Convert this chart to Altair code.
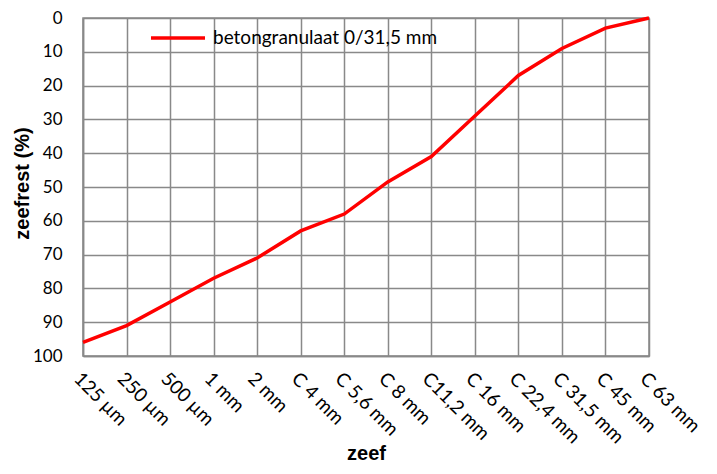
import altair as alt
import pandas as pd

categories = ["125 µm", "250 µm", "500 µm", "1 mm", "2 mm", "C 4 mm", "C 5,6 mm",
              "C 8 mm", "C11,2 mm", "C 16 mm", "C 22,4 mm", "C 31,5 mm", "C 45 mm", "C 63 mm"]
zeefrest = [96, 91, 84, 77, 71, 63, 58, 48.5, 41, 29, 17, 9, 3, 0]
series_name = "betongranulaat 0/31,5 mm"

df = pd.DataFrame({"zeef": categories, "zeefrest": zeefrest, "serie": [series_name] * len(categories)})

grid_color = "#898989"

chart = alt.Chart(df).mark_line(strokeWidth=3.5).encode(
    x=alt.X("zeef:N", sort=categories, title="zeef",
            scale=alt.Scale(type="point", padding=0),
            axis=alt.Axis(labelAngle=45, labelAlign="left", labelBaseline="top",
                          labelFont="Lato", labelFontSize=19, labelColor="black",
                          labelPadding=13, ticks=False, grid=True, gridColor=grid_color,
                          gridWidth=1.5, domainColor=grid_color, domainWidth=1.5,
                          titleFont="Liberation Sans", titleFontSize=20, titleFontWeight="bold",
                          titleColor="black", titleY=103, titleBaseline="alphabetic")),
    y=alt.Y("zeefrest:Q", title="zeefrest (%)",
            scale=alt.Scale(domain=[0, 100], reverse=True, nice=False),
            axis=alt.Axis(values=list(range(0, 101, 10)), labelFont="Lato",
                          labelFontSize=17, labelColor="black", labelPadding=21,
                          ticks=False, grid=True, gridColor=grid_color, gridWidth=1.5,
                          domainColor=grid_color, domainWidth=1.5,
                          titleFont="Liberation Sans", titleFontSize=20, titleFontWeight="bold",
                          titleColor="black", titleX=-61, titleY=165, titleBaseline="middle")),
    color=alt.Color("serie:N", scale=alt.Scale(range=["#ff0000"]),
                    legend=alt.Legend(title=None, orient="none", legendX=66, legendY=-9,
                                      symbolType="stroke", symbolSize=2916, symbolStrokeWidth=3.5,
                                      labelFont="Lato", labelFontSize=19, labelColor="black",
                                      labelOffset=6, padding=0, labelLimit=400)),
).properties(
    width=566, height=338,
    autosize=alt.AutoSizeParams(type="none"),
    padding={"left": 75, "top": 10, "right": 60, "bottom": 110},
).configure_view(stroke=grid_color, strokeWidth=1.5)

chart.save("out.html", embed_options={"renderer": "svg", "actions": False})
